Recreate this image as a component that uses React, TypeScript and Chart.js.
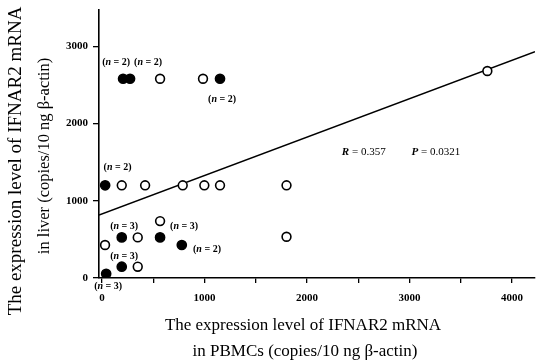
import React, { useEffect, useRef } from "react";
import { Chart, registerables } from "chart.js";

Chart.register(...registerables);

// Data (copies/10 ng beta-actin)
const filledX = [205, 273, 1151, 30, 192, 566, 778, 192, 40];
const filledY = [2580, 2580, 2580, 1200, 526, 526, 427, 146, 55];
const openX = [566, 985, 192, 420, 787, 998, 1151, 1800, 566, 348, 29, 348, 1800, 3760];
const openY = [2580, 2580, 1200, 1200, 1200, 1200, 1200, 1200, 737, 526, 427, 146, 534, 2680];
const fitX = [-30, 4225];
const fitY = [815, 2930];
const xTickValues = [0, 500, 1000, 1500, 2000, 2500, 3000, 3500, 4000];
const yTickValues = [0, 1000, 2000, 3000];

// n annotations, anchored at data coordinates
const nLabelCounts = [2, 2, 2, 2, 3, 3, 2, 3, 3];
const nLabelX = [137, 449, 1171, 151, 215, 800, 1024, 215, 59];
const nLabelY = [2785, 2785, 2312, 1436, 673, 664, 371, 276, -113];

const statR = "0.357";
const statP = "0.0321";
const statX = [2340, 3020];
const statY = 1634;

const xTitle = ["The expression level of IFNAR2 mRNA", "in PBMCs (copies/10 ng \u03b2-actin)"];
const yTitle = ["The expression level of IFNAR2 mRNA", "in liver (copies/10 ng \u03b2-actin)"];

const SERIF = "'Liberation Serif', 'Times New Roman', serif";

export default function App() {
  const ref = useRef<HTMLCanvasElement | null>(null);

  useEffect(() => {
    const canvas = ref.current;
    if (!canvas) return;

    const drawN = (ctx: CanvasRenderingContext2D, cx: number, cy: number, n: number) => {
      const norm = `bold 10px ${SERIF}`;
      const ital = `italic bold 10px ${SERIF}`;
      const parts: [string, string][] = [["(", norm], ["n", ital], [` = ${n})`, norm]];
      let total = 0;
      for (const [t, f] of parts) { ctx.font = f; total += ctx.measureText(t).width; }
      let x = cx - total / 2;
      for (const [t, f] of parts) {
        ctx.font = f;
        ctx.fillText(t, x, cy);
        x += ctx.measureText(t).width;
      }
    };

    const drawStat = (ctx: CanvasRenderingContext2D, x: number, y: number, letter: string, val: string) => {
      ctx.font = `italic bold 11px ${SERIF}`;
      ctx.fillText(letter, x, y);
      const w = ctx.measureText(letter).width;
      ctx.font = `11px ${SERIF}`;
      ctx.fillText(" = " + val, x + w, y);
    };

    const textPlugin = {
      id: "texts",
      afterDraw(chart: any) {
        const ctx: CanvasRenderingContext2D = chart.ctx;
        const xs = chart.scales.x;
        const ys = chart.scales.y;
        ctx.save();
        ctx.fillStyle = "#000";
        ctx.textBaseline = "middle";
        ctx.textAlign = "left";
        for (let i = 0; i < nLabelCounts.length; i++) {
          drawN(ctx, xs.getPixelForValue(nLabelX[i]), ys.getPixelForValue(nLabelY[i]), nLabelCounts[i]);
        }
        drawStat(ctx, xs.getPixelForValue(statX[0]), ys.getPixelForValue(statY), "R", statR);
        drawStat(ctx, xs.getPixelForValue(statX[1]), ys.getPixelForValue(statY), "P", statP);

        // axis titles
        ctx.textAlign = "center";
        ctx.font = `17px ${SERIF}`;
        ctx.fillText(xTitle[0], 303, 326);
        ctx.fillText(xTitle[1], 305, 352);

        ctx.save();
        ctx.font = `19px ${SERIF}`;
        ctx.translate(16, 161);
        ctx.rotate(-Math.PI / 2);
        ctx.fillText(yTitle[0], 0, 0);
        ctx.restore();
        ctx.save();
        ctx.font = `16.5px ${SERIF}`;
        ctx.translate(45, 156);
        ctx.rotate(-Math.PI / 2);
        ctx.fillText(yTitle[1], 0, 0);
        ctx.restore();
        ctx.restore();
      },
    };

    const chart = new Chart(canvas, {
      type: "scatter",
      data: {
        datasets: [
          {
            label: "filled",
            data: filledX.map((x, i) => ({ x, y: filledY[i] })),
            backgroundColor: "#000",
            borderColor: "#000",
            borderWidth: 1.5,
            pointRadius: 4.6,
            order: 0,
          },
          {
            label: "open",
            data: openX.map((x, i) => ({ x, y: openY[i] })),
            backgroundColor: "#fff",
            borderColor: "#000",
            borderWidth: 1.6,
            pointRadius: 4.4,
            order: 0,
          },
          {
            type: "line",
            label: "fit",
            data: fitX.map((x, i) => ({ x, y: fitY[i] })),
            borderColor: "#000",
            borderWidth: 1.6,
            pointRadius: 0,
            fill: false,
            order: 5,
          } as any,
        ],
      },
      options: {
        responsive: false,
        animation: false,
        devicePixelRatio: 1,
        layout: { autoPadding: false, padding: { top: 10, right: 1, left: 0, bottom: 0 } },
        plugins: { legend: { display: false }, tooltip: { enabled: false } },
        scales: {
          x: {
            type: "linear",
            min: -30,
            max: 4225,
            afterFit: (s: any) => { s.height = 85; s.paddingLeft = 0; s.paddingRight = 0; },
            afterBuildTicks: (s: any) => { s.ticks = xTickValues.map((v) => ({ value: v })); },
            border: { display: true, color: "#000", width: 1.6 },
            grid: { display: true, drawOnChartArea: false, drawTicks: true, tickLength: 5, color: "#000", lineWidth: 1.3 },
            ticks: {
              padding: 9,
              color: "#000",
              font: { family: SERIF, size: 11, weight: "bold" },
              maxRotation: 0,
              autoSkip: false,
              callback: (v: any) => (Number(v) % 1000 === 0 ? String(v) : ""),
            },
          },
          y: {
            type: "linear",
            min: 0,
            max: 3470,
            afterFit: (s: any) => { s.width = 99; s.paddingTop = 0; s.paddingBottom = 0; },
            afterBuildTicks: (s: any) => { s.ticks = yTickValues.map((v) => ({ value: v })); },
            border: { display: true, color: "#000", width: 1.6 },
            grid: { display: true, drawOnChartArea: false, drawTicks: true, tickLength: 6, color: "#000", lineWidth: 1.3 },
            ticks: {
              padding: 5,
              color: "#000",
              font: { family: SERIF, size: 11, weight: "bold" },
              autoSkip: false,
              callback: (v: any) => String(v),
            },
          },
        },
      },
      plugins: [textPlugin],
    });

    return () => chart.destroy();
  }, []);

  return (
    <div style={{ position: "absolute", left: 0, top: 0, width: 536, height: 363, background: "#fff" }}>
      <canvas ref={ref} width={536} height={363} style={{ display: "block" }} />
    </div>
  );
}
